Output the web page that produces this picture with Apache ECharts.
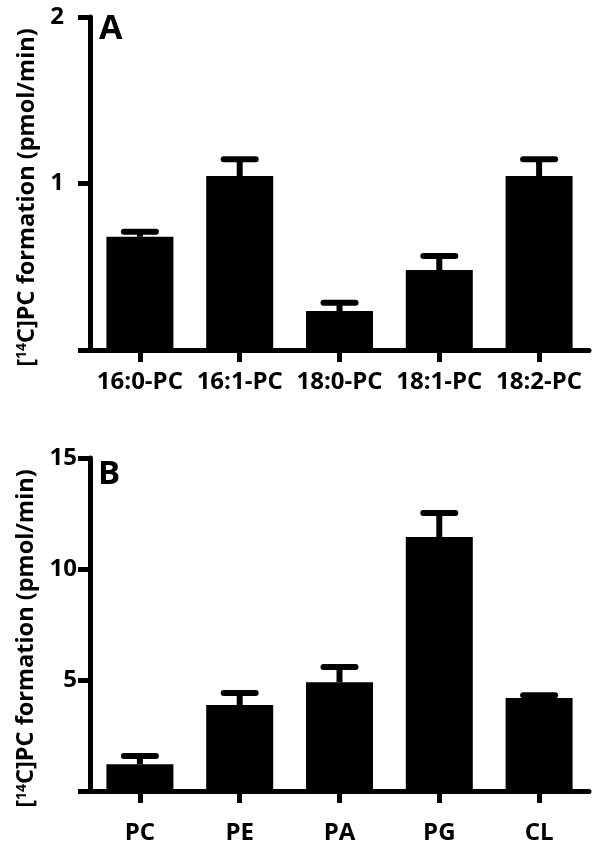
<!DOCTYPE html>
<html>
<head>
<meta charset="utf-8">
<script src="https://cdn.jsdelivr.net/npm/echarts@6/dist/echarts.min.js"></script>
<style>html,body{margin:0;padding:0;background:#fff}#c{width:602px;height:852px}</style>
</head>
<body>
<div id="c"></div>
<script>
const categoriesA = ['16:0-PC', '16:1-PC', '18:0-PC', '18:1-PC', '18:2-PC'];
const valuesA = [0.68, 1.045, 0.234, 0.48, 1.045];
const errorsA = [0.03, 0.10, 0.05, 0.085, 0.10];
const categoriesB = ['PC', 'PE', 'PA', 'PG', 'CL'];
const valuesB = [1.2, 3.87, 4.9, 11.44, 4.19];
const errorsB = [0.38, 0.54, 0.69, 1.08, 0.12];
const yTitle = '[{sup|14}C]PC formation (pmol/min)';

const FONT = 'Open Sans';
const chart = echarts.init(document.getElementById('c'), null, {renderer: 'canvas'});

function errItem(params, api) {
  const i = api.value(0), v = api.value(1), e = api.value(2);
  const p0 = api.coord([i, v]);
  const p1 = api.coord([i, v + e]);
  const st = {stroke: '#000', lineWidth: 6, lineCap: 'round'};
  return {
    type: 'group',
    children: [
      {type: 'line', shape: {x1: p0[0], y1: p0[1], x2: p1[0], y2: p1[1]}, style: {stroke: '#000', lineWidth: 6}},
      {type: 'line', shape: {x1: p1[0] - 16, y1: p1[1], x2: p1[0] + 16, y2: p1[1]}, style: st}
    ]
  };
}

function yAxis(idx, max, interval, margin) {
  return {
    gridIndex: idx, type: 'value', min: 0, max: max, interval: interval,
    name: yTitle, nameLocation: 'middle', nameGap: 44,
    nameTextStyle: {
      fontFamily: FONT, fontWeight: 'bold', fontSize: 23.5, color: '#000',
      padding: [0, 28, 0, 0],
      rich: {sup: {fontFamily: FONT, fontWeight: 'bold', fontSize: 14, color: '#000', verticalAlign: 'top', lineHeight: 14}}
    },
    axisLine: {show: true, lineStyle: {color: '#000', width: 5}},
    axisTick: {show: true, length: 12, lineStyle: {color: '#000', width: 5}},
    axisLabel: {margin: margin, fontFamily: FONT, fontWeight: 'bold', fontSize: 24, color: '#000',
      formatter: v => (v === 0 ? '' : String(v))},
    splitLine: {show: false}
  };
}
function xAxis(idx, cats, margin) {
  return {
    gridIndex: idx, type: 'category', data: cats,
    axisLine: {show: true, lineStyle: {color: '#000', width: 5}},
    axisTick: {show: true, alignWithLabel: true, interval: 0, length: 12, lineStyle: {color: '#000', width: 5}},
    axisLabel: {interval: 0, hideOverlap: false, margin: margin, fontFamily: FONT, fontWeight: 'bold', fontSize: 24, color: '#000'}
  };
}

chart.setOption({
  animation: false,
  backgroundColor: '#fff',
  grid: [
    {left: 90, top: 17, width: 499, height: 333},
    {left: 90, top: 458, width: 499, height: 333}
  ],
  xAxis: [xAxis(0, categoriesA, 20), xAxis(1, categoriesB, 30)],
  yAxis: [yAxis(0, 2, 1, 26), yAxis(1, 15, 5, 13)],
  graphic: [
    {type: 'text', left: 99, top: 12, style: {text: 'A', font: 'bold 34px "Open Sans"', fill: '#000'}},
    {type: 'text', left: 98, top: 458, style: {text: 'B', font: 'bold 33px "Open Sans"', fill: '#000'}}
  ],
  series: [
    {type: 'bar', xAxisIndex: 0, yAxisIndex: 0, data: valuesA, barWidth: 67, itemStyle: {color: '#000'}},
    {type: 'custom', xAxisIndex: 0, yAxisIndex: 0, renderItem: errItem,
     data: valuesA.map((v, i) => [i, v, errorsA[i]]), z: 3},
    {type: 'bar', xAxisIndex: 1, yAxisIndex: 1, data: valuesB, barWidth: 67, itemStyle: {color: '#000'}},
    {type: 'custom', xAxisIndex: 1, yAxisIndex: 1, renderItem: errItem,
     data: valuesB.map((v, i) => [i, v, errorsB[i]]), z: 3}
  ]
});
</script>
</body>
</html>
